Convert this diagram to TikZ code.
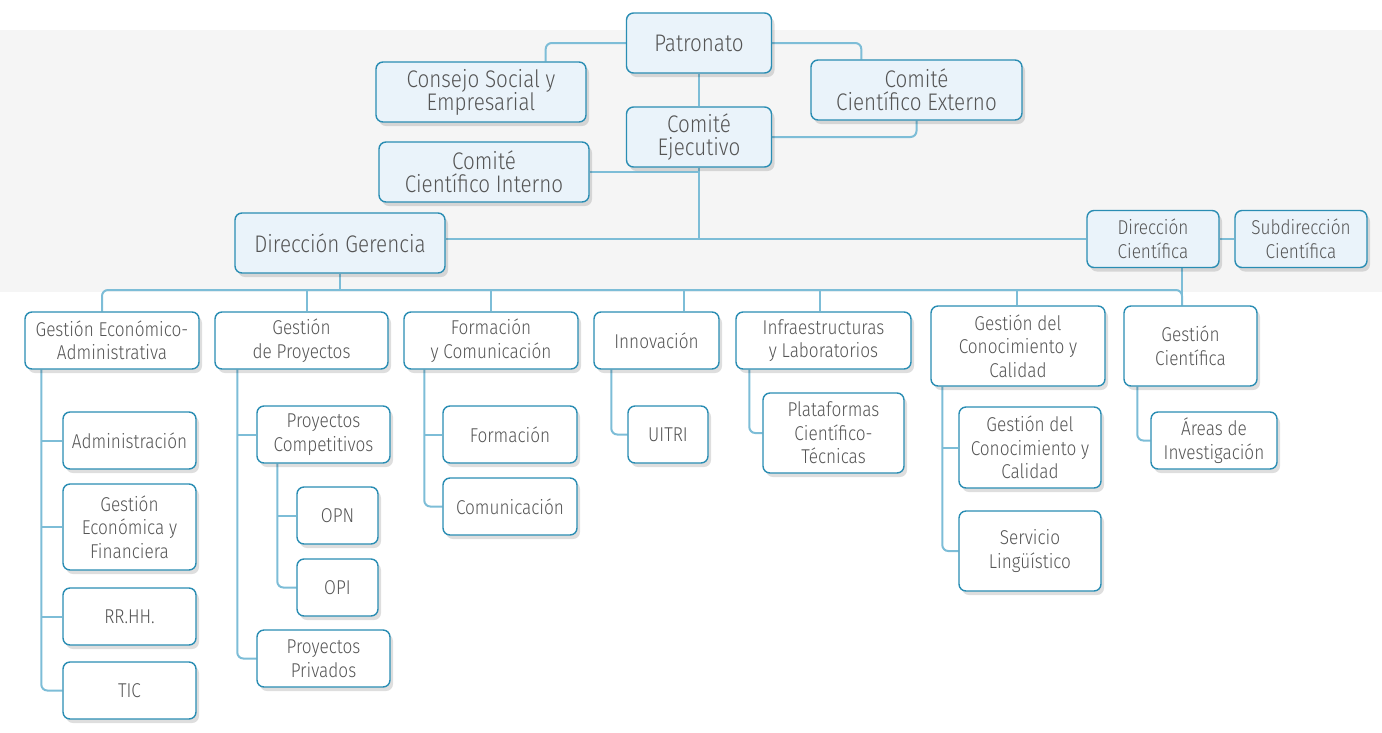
\documentclass[tikz,border=0pt]{standalone}
\usepackage{fontspec}
\setmainfont{Fira Sans}[UprightFont=* Light, FakeStretch=0.86]
\usetikzlibrary{shadows,calc}
\definecolor{bordc}{HTML}{2A8DB3}
\definecolor{topfill}{HTML}{EAF3FA}
\definecolor{connc}{HTML}{7DBDD7}
\definecolor{txtc}{HTML}{555555}
\definecolor{bandc}{HTML}{F5F5F5}
\pgfdeclarelayer{back}
\pgfdeclarelayer{lines}
\pgfsetlayers{back,lines,main}
\tikzset{
  basebox/.style={draw=bordc, line width=1.4pt, rounded corners=7pt, text=txtc, align=center, inner sep=2pt,
    drop shadow={shadow xshift=3pt, shadow yshift=-4pt, opacity=0.13, fill=black}},
  topbox/.style={basebox, fill=topfill, font=\fontsize{24}{23}\selectfont},
  midbox/.style={basebox, fill=topfill, font=\fontsize{20}{23.5}\selectfont},
  subbox/.style={basebox, fill=white, font=\fontsize{20}{23.5}\selectfont},
  conn/.style={draw=connc, line width=2pt, rounded corners=6pt},
}
\begin{document}
\begin{tikzpicture}[x=1pt, y=-1pt]
\useasboundingbox (0,0) rectangle (1382,732);
\begin{pgfonlayer}{back}
\fill[bandc] (0,30) rectangle (1382,292);
\end{pgfonlayer}
% top level
\node[topbox, minimum width=145, minimum height=60] (pat) at (699,43) {Patronato};
\node[topbox, minimum width=210, minimum height=60] (cons) at (481,92) {Consejo Social y\\Empresarial};
\node[topbox, minimum width=211, minimum height=60] (ext) at (916.5,90) {Comité\\Científico Externo};
\node[topbox, minimum width=145, minimum height=60] (eje) at (699,137) {Comité\\Ejecutivo};
\node[topbox, minimum width=210, minimum height=60] (int) at (484,172) {Comité\\Científico Interno};
\node[topbox, minimum width=210, minimum height=60] (dg) at (340,243) {Dirección Gerencia};
\node[midbox, minimum width=132, minimum height=57] (dc) at (1153,239) {Dirección\\Científica};
\node[midbox, minimum width=132, minimum height=57] (sub) at (1301,239) {Subdirección\\Científica};
% row 2
\node[subbox, minimum width=174, minimum height=57] (gea) at (112,340.5) {Gestión Económico-\\Administrativa};
\node[subbox, minimum width=173, minimum height=57] (gp) at (301.5,340.5) {Gestión\\de Proyectos};
\node[subbox, minimum width=174, minimum height=57] (fc) at (491,340.5) {Formación\\y Comunicación};
\node[subbox, minimum width=125, minimum height=57] (inn) at (656.5,340.5) {Innovación};
\node[subbox, minimum width=175, minimum height=57] (inf) at (823.5,340.5) {Infraestructuras\\y Laboratorios};
\node[subbox, minimum width=174, minimum height=80] (gcc) at (1018,346) {Gestión del\\Conocimiento y\\Calidad};
\node[subbox, minimum width=133, minimum height=80] (gc) at (1190.5,346) {Gestión\\Científica};
% children
\node[subbox, minimum width=133, minimum height=57] (adm) at (129.5,440.5) {Administración};
\node[subbox, minimum width=133, minimum height=86] (gef) at (129.5,527) {Gestión\\Económica y\\Financiera};
\node[subbox, minimum width=133, minimum height=57] (rrhh) at (129.5,616.5) {RR.HH.};
\node[subbox, minimum width=133, minimum height=57] (tic) at (129.5,690.5) {TIC};
\node[subbox, minimum width=133, minimum height=57] (pc) at (323.5,434.5) {Proyectos\\Competitivos};
\node[subbox, minimum width=81, minimum height=57] (opn) at (337.5,515.5) {OPN};
\node[subbox, minimum width=81, minimum height=57] (opi) at (337.5,587.5) {OPI};
\node[subbox, minimum width=133, minimum height=57] (pp) at (323.5,658.5) {Proyectos\\Privados};
\node[subbox, minimum width=134, minimum height=57] (form) at (510,434.5) {Formación};
\node[subbox, minimum width=134, minimum height=57] (com) at (510,506.5) {Comunicación};
\node[subbox, minimum width=80, minimum height=57] (uitri) at (668,434.5) {UITRI};
\node[subbox, minimum width=141, minimum height=80] (plat) at (833.5,433) {Plataformas\\Científico-\\Técnicas};
\node[subbox, minimum width=142, minimum height=81] (gcc2) at (1030,447.5) {Gestión del\\Conocimiento y\\Calidad};
\node[subbox, minimum width=142, minimum height=80] (serv) at (1030,551) {Servicio\\Lingüístico};
\node[subbox, minimum width=126, minimum height=57] (areas) at (1214,440.5) {Áreas de\\Investigación};
% connectors
\begin{pgfonlayer}{lines}
\coordinate (bus) at (0,290);
\draw[conn] (pat.west) -| ([xshift=-41pt]cons.north east);
\draw[conn] (pat.east) -| ([xshift=51pt]ext.north west);
\draw[conn] (pat.south) -- (eje.north);
\draw[conn] (ext.south) |- (eje.east);
\draw[conn] (eje.south) -- (eje.south |- dc.west);
\draw[conn] (int.east) -- (int.east -| eje.south);
\draw[conn] (dc.west) -- (dc.west -| dg.east);
\draw[conn] (dc.east) -- (sub.west);
\draw[conn] (dg.south) -- (dg.south |- bus);
\coordinate (gcin) at ([xshift=-8.5pt]gc.north);
\draw[conn] (gcin |- dc.south) -- (gcin);
\draw[conn] ([xshift=-10pt]gea.north) |- (gcin |- bus) -- (gcin);
\draw[conn] ([xshift=5.5pt]gp.north) -- ([xshift=5.5pt]gp.north |- bus);
\draw[conn] (fc.north) -- (fc.north |- bus);
\draw[conn] ([xshift=27.5pt]inn.north) -- ([xshift=27.5pt]inn.north |- bus);
\draw[conn] ([xshift=-3.5pt]inf.north) -- ([xshift=-3.5pt]inf.north |- bus);
\draw[conn] ([xshift=-1pt]gcc.north) -- ([xshift=-1pt]gcc.north |- bus);
% children trunks
\coordinate (tA) at ([xshift=17pt]gea.south west);
\draw[conn] (tA) |- (tic.west);
\draw[conn] (adm.west) -- (adm.west -| tA);
\draw[conn] (gef.west) -- (gef.west -| tA);
\draw[conn] (rrhh.west) -- (rrhh.west -| tA);
\coordinate (tB) at ([xshift=23pt]gp.south west);
\draw[conn] (tB) |- (pp.west);
\draw[conn] (pc.west) -- (pc.west -| tB);
\coordinate (tC) at ([xshift=21pt]pc.south west);
\draw[conn] (tC) |- (opi.west);
\draw[conn] (opn.west) -- (opn.west -| tC);
\coordinate (tD) at ([xshift=21pt]fc.south west);
\draw[conn] (tD) |- (com.west);
\draw[conn] (form.west) -- (form.west -| tD);
\coordinate (tE) at ([xshift=18pt]inn.south west);
\draw[conn] (tE) |- (uitri.west);
\coordinate (tF) at ([xshift=14pt]inf.south west);
\draw[conn] (tF) |- (plat.west);
\coordinate (tG) at ([xshift=12pt]gcc.south west);
\draw[conn] (tG) |- (serv.west);
\draw[conn] (gcc2.west) -- (gcc2.west -| tG);
\coordinate (tH) at ([xshift=14pt]gc.south west);
\draw[conn] (tH) |- (areas.west);
\end{pgfonlayer}
\end{tikzpicture}
\end{document}
